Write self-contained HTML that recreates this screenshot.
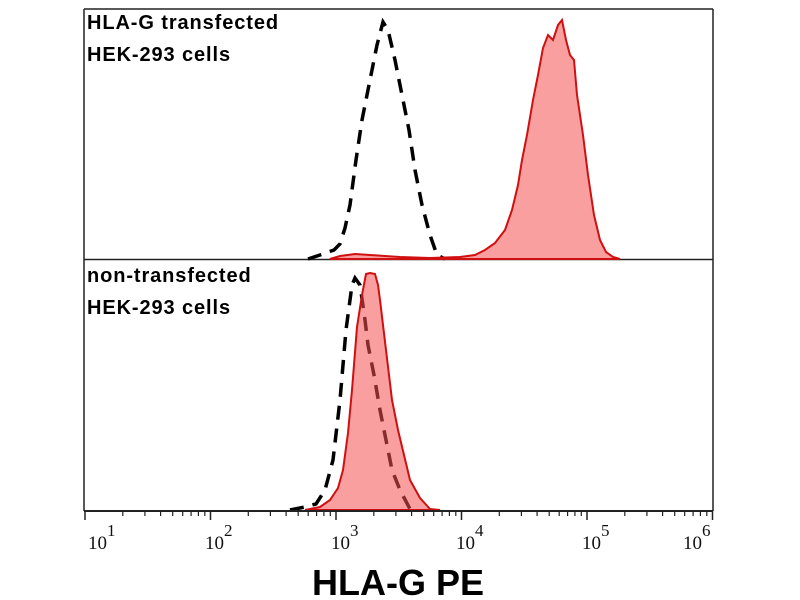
<!DOCTYPE html>
<html><head><meta charset="utf-8"><style>
body{margin:0;background:#fff;}
svg{display:block;}
</style></head><body>
<svg width="800" height="600" viewBox="0 0 800 600" xmlns="http://www.w3.org/2000/svg">
<rect width="800" height="600" fill="#fff"/>
<g stroke="#222" stroke-width="1.5" fill="none">
<line x1="84" y1="9" x2="713" y2="9"/>
<line x1="84" y1="9" x2="84" y2="511"/>
<line x1="713" y1="9" x2="713" y2="511"/>
<line x1="84" y1="259.5" x2="713" y2="259.5"/>
</g>
<polyline fill="none" stroke="#000" stroke-width="3.5" stroke-dasharray="14,9" points="308,259 320,255 334,250 340,244 345,228 350,205 356,160 362,120 370,80 377,45 383,22 388,30 395,60 402,95 409,130 415,170 422,205 430,235 437,255 445,259"/>
<path fill="rgba(245,80,80,0.55)" stroke="#d01010" stroke-width="2" d="M330,259 L340,256 355,254 370,255 400,257 430,258 460,257 475,255 485,250 495,243 505,230 512,210 518,185 522,160 527,135 533,100 538,75 543,48 548,35 553,40 558,25 562,20 566,40 570,55 574,60 577,95 583,135 588,175 594,215 600,240 606,252 613,257 620,259 Z"/>
<polyline fill="none" stroke="#000" stroke-width="3.5" stroke-dasharray="14,9" points="290,510 305,507 316,504 325,490 333,460 340,400 346,330 352,285 355,278 360,285 365,320 368,345 374,375 380,410 386,440 392,470 400,490 410,509"/>
<path fill="rgba(245,80,80,0.55)" stroke="#d01010" stroke-width="2" d="M305,510 L320,507 330,500 338,488 343,470 348,433 352,390 357,327 362,295 366,274 370,273 375,274 378,285 380,300 386,350 392,400 398,430 404,455 410,480 420,498 430,509 440,510 Z"/>
<line x1="84" y1="511" x2="713" y2="511" stroke="#222" stroke-width="2"/>
<g stroke="#222" stroke-width="1.5">
<line x1="85" y1="511" x2="85" y2="520"/>
<line x1="210.5" y1="511" x2="210.5" y2="520"/>
<line x1="336" y1="511" x2="336" y2="520"/>
<line x1="461.5" y1="511" x2="461.5" y2="520"/>
<line x1="587" y1="511" x2="587" y2="520"/>
<line x1="712.5" y1="511" x2="712.5" y2="520"/>
</g>
<g font-family="Liberation Serif, serif" font-size="19" fill="#111">
<text x="88" y="549">10<tspan font-size="17" dy="-13">1</tspan></text>
<text x="205" y="549">10<tspan font-size="17" dy="-13">2</tspan></text>
<text x="331" y="549">10<tspan font-size="17" dy="-13">3</tspan></text>
<text x="456" y="549">10<tspan font-size="17" dy="-13">4</tspan></text>
<text x="582" y="549">10<tspan font-size="17" dy="-13">5</tspan></text>
<text x="683" y="549">10<tspan font-size="17" dy="-13">6</tspan></text>
</g>
<g font-family="Liberation Sans, sans-serif" font-weight="bold" font-size="20" letter-spacing="0.9" fill="#000">
<text x="87" y="29">HLA-G transfected</text>
<text x="87" y="61">HEK-293 cells</text>
<text x="87" y="282">non-transfected</text>
<text x="87" y="314">HEK-293 cells</text>
</g>
<text x="398" y="595" text-anchor="middle" font-family="Liberation Sans, sans-serif" font-weight="bold" font-size="36" fill="#000">HLA-G PE</text>
<g stroke="#222" stroke-width="1.2">
<line x1="122.8" y1="511" x2="122.8" y2="516"/><line x1="144.9" y1="511" x2="144.9" y2="516"/><line x1="160.6" y1="511" x2="160.6" y2="516"/><line x1="172.7" y1="511" x2="172.7" y2="516"/><line x1="182.7" y1="511" x2="182.7" y2="516"/><line x1="191.1" y1="511" x2="191.1" y2="516"/><line x1="198.4" y1="511" x2="198.4" y2="516"/><line x1="204.8" y1="511" x2="204.8" y2="516"/>
<line x1="248.3" y1="511" x2="248.3" y2="516"/><line x1="270.4" y1="511" x2="270.4" y2="516"/><line x1="286.1" y1="511" x2="286.1" y2="516"/><line x1="298.2" y1="511" x2="298.2" y2="516"/><line x1="308.2" y1="511" x2="308.2" y2="516"/><line x1="316.6" y1="511" x2="316.6" y2="516"/><line x1="323.9" y1="511" x2="323.9" y2="516"/><line x1="330.3" y1="511" x2="330.3" y2="516"/>
<line x1="373.8" y1="511" x2="373.8" y2="516"/><line x1="395.9" y1="511" x2="395.9" y2="516"/><line x1="411.6" y1="511" x2="411.6" y2="516"/><line x1="423.7" y1="511" x2="423.7" y2="516"/><line x1="433.7" y1="511" x2="433.7" y2="516"/><line x1="442.1" y1="511" x2="442.1" y2="516"/><line x1="449.4" y1="511" x2="449.4" y2="516"/><line x1="455.8" y1="511" x2="455.8" y2="516"/>
<line x1="499.3" y1="511" x2="499.3" y2="516"/><line x1="521.4" y1="511" x2="521.4" y2="516"/><line x1="537.1" y1="511" x2="537.1" y2="516"/><line x1="549.2" y1="511" x2="549.2" y2="516"/><line x1="559.2" y1="511" x2="559.2" y2="516"/><line x1="567.6" y1="511" x2="567.6" y2="516"/><line x1="574.9" y1="511" x2="574.9" y2="516"/><line x1="581.3" y1="511" x2="581.3" y2="516"/>
<line x1="624.8" y1="511" x2="624.8" y2="516"/><line x1="646.9" y1="511" x2="646.9" y2="516"/><line x1="662.6" y1="511" x2="662.6" y2="516"/><line x1="674.7" y1="511" x2="674.7" y2="516"/><line x1="684.7" y1="511" x2="684.7" y2="516"/><line x1="693.1" y1="511" x2="693.1" y2="516"/><line x1="700.4" y1="511" x2="700.4" y2="516"/><line x1="706.8" y1="511" x2="706.8" y2="516"/>
</g>
</svg>
</body></html>
